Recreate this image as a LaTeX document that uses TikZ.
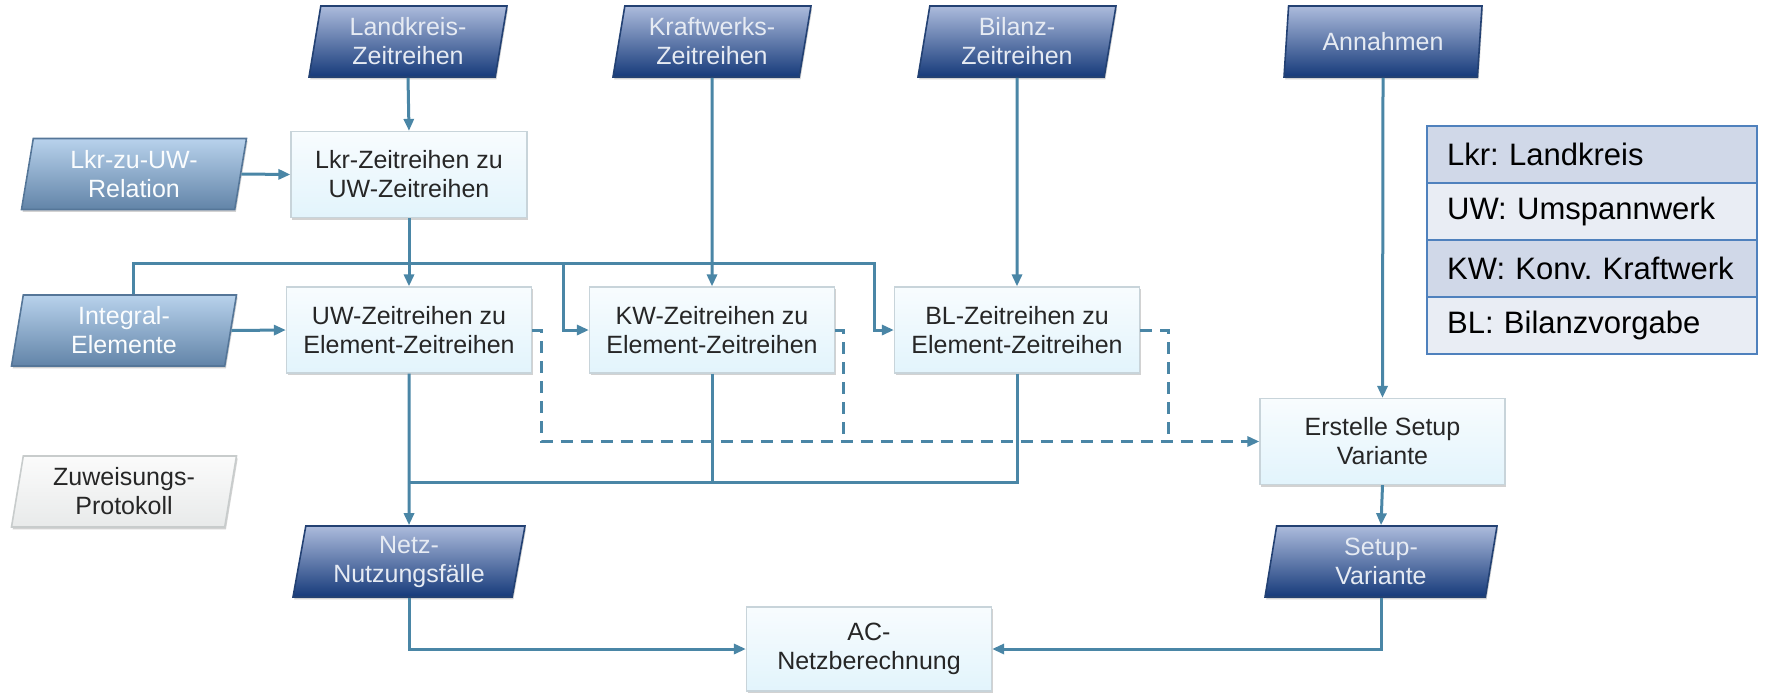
\documentclass[tikz,border=0pt]{standalone}
\usepackage{fontspec}
\setmainfont{Liberation Sans}
\usetikzlibrary{shapes.geometric,arrows.meta,shadows}

\definecolor{lnc}{RGB}{74,134,166}
\definecolor{darktop}{RGB}{172,187,220}
\definecolor{darkbot}{RGB}{22,58,122}
\definecolor{darkbd}{RGB}{35,65,115}
\definecolor{lighttop}{RGB}{184,210,236}
\definecolor{lightbot}{RGB}{98,132,168}
\definecolor{lightbd}{RGB}{85,118,152}
\definecolor{proctop}{RGB}{248,252,254}
\definecolor{procbot}{RGB}{226,244,252}
\definecolor{procbd}{RGB}{200,212,218}
\definecolor{greytop}{RGB}{251,251,251}
\definecolor{greybot}{RGB}{232,234,234}
\definecolor{greybd}{RGB}{200,204,204}
\definecolor{legbd}{RGB}{79,129,189}
\definecolor{legdark}{RGB}{208,216,232}
\definecolor{leglight}{RGB}{233,237,244}
\definecolor{paratext}{RGB}{230,235,243}

\newcommand\dgfont{\frenchspacing\fontsize{12.5pt}{14.5pt}\selectfont}
\newcommand\legfont{\frenchspacing\fontsize{15.5pt}{18pt}\selectfont}

\tikzset{
  shad/.style={drop shadow={shadow xshift=0.6pt,shadow yshift=-1.2pt,opacity=0.25,fill=black!70}},
  para/.style={trapezium, trapezium left angle=76, trapezium right angle=104,
    trapezium stretches body, inner sep=0pt, minimum height=35.5pt,
    align=center, font=\dgfont, line width=0.8pt, shad},
  darkpara/.style={para, draw=darkbd, top color=darktop, bottom color=darkbot,
    text=paratext, minimum width=99pt},
  netpara/.style={darkpara, minimum width=116pt},
  lightpara/.style={para, draw=lightbd, top color=lighttop, bottom color=lightbot,
    text=white!95!lighttop, minimum width=112.5pt},
  greypara/.style={para, draw=greybd, top color=greytop, bottom color=greybot,
    text=black!85, minimum width=112.5pt},
  proc/.style={rectangle, draw=procbd, line width=0.6pt, top color=proctop,
    bottom color=procbot, minimum width=122.5pt, minimum height=43pt,
    inner sep=0pt, align=center, font=\dgfont, text=black!85, shad},
  legrow/.style={rectangle, draw=legbd, line width=1.1pt, anchor=north west,
    text width=145pt, inner xsep=10pt, inner ysep=0pt, minimum height=28.5pt,
    align=left, font=\legfont, text=black},
  conn/.style={draw=lnc, line width=1.5pt},
  arr/.style={conn, -{Triangle[length=6pt,width=5pt]}},
  dashconn/.style={conn, dash pattern=on 6pt off 4pt},
  dasharr/.style={dashconn, -{Triangle[length=6pt,width=5pt]}}
}

\begin{document}
\begin{tikzpicture}[x=0.5pt,y=-0.5pt]
\useasboundingbox (0,0) rectangle (1771,692);

% data parallelograms
\node[darkpara] (lkzr) at (408,41.5) {Landkreis-\\Zeitreihen};
\node[darkpara] (kwzr) at (712,41.5) {Kraftwerks-\\Zeitreihen};
\node[darkpara] (blzr) at (1017,41.5) {Bilanz-\\Zeitreihen};
\node[darkpara] (ann) at (1383,41.5) {Annahmen};
\node[lightpara] (rel) at (134,174) {Lkr-zu-UW-\\Relation};
\node[lightpara] (int) at (124,330.5) {Integral-\\Elemente};
\node[greypara] (zuw) at (124,491.5) {Zuweisungs-\\Protokoll};
\node[netpara] (netz) at (409,561.5) {Netz-\\Nutzungsfälle};
\node[netpara] (setup) at (1381,561.5) {Setup-\\Variante};

% process boxes
\node[proc, minimum width=118pt] (lkr) at (409,174.5) {Lkr-Zeitreihen zu\\UW-Zeitreihen};
\node[proc] (uw) at (409,330) {UW-Zeitreihen zu\\Element-Zeitreihen};
\node[proc] (kw) at (712,330) {KW-Zeitreihen zu\\Element-Zeitreihen};
\node[proc] (bl) at (1017,330) {BL-Zeitreihen zu\\Element-Zeitreihen};
\node[proc] (erst) at (1382.5,441.5) {Erstelle Setup\\Variante};
\node[proc, minimum height=42pt] (ac) at (869,649) {AC-\\Netzberechnung};

% legend
\node[legrow, fill=legdark] (leg1) at (1426,125) {Lkr: Landkreis};
\node[legrow, fill=leglight] (leg2) at (1426,182) {UW: Umspannwerk};
\node[legrow, fill=legdark] (leg3) at (1426,239) {KW: Konv. Kraftwerk};
\node[legrow, fill=leglight] (leg4) at (1426,296) {BL: Bilanzvorgabe};

% helper coordinates
\coordinate (busL) at (133,263);
\coordinate (busK) at (563,263);
\coordinate (busR) at (874,263);
\coordinate (busB) at (409,482);
\coordinate (dk) at (843,441.5);
\coordinate (db) at (1168,441.5);

% connectors
\draw[arr] (lkzr.south) -- (lkr.north);
\draw[arr] (rel.east) -- (lkr.west);
\draw[arr] (lkr.south) -- (uw.north);
\draw[arr] (int.east) -- (uw.west);
\draw[arr] (busL |- int.north) -- (busL) -- (busR) |- (bl.west);
\draw[arr] (busK) |- (kw.west);
\draw[arr] (kwzr.south) -- (kw.north);
\draw[arr] (blzr.south) -- (bl.north);
\draw[arr] (ann.south) -- (erst.north);
\draw[conn] (kw.south) |- (busB);
\draw[conn] (bl.south) |- (busB);
\draw[arr] (uw.south) -- (netz.north);
\draw[arr] (erst.south) -- (setup.north);
\draw[arr] (netz.south) |- (ac.west);
\draw[arr] (setup.south) |- (ac.east);

% dashed connectors
\draw[dasharr] (uw.east) -- ++(9,0) |- (erst.west);
\draw[dashconn] (kw.east) -| (dk);
\draw[dashconn] (bl.east) -| (db);
\end{tikzpicture}
\end{document}
